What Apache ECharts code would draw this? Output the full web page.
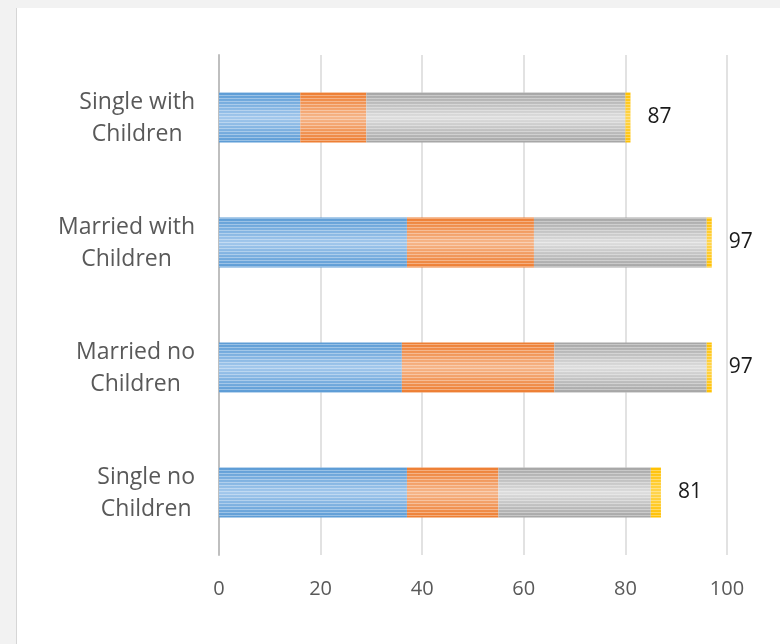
<!DOCTYPE html>
<html>
<head>
<meta charset="utf-8">
<script src="https://cdn.jsdelivr.net/npm/echarts@6/dist/echarts.min.js"></script>
<style>
  body { margin: 0; background: #f2f2f2; }
  #chart {
    position: absolute; left: 16px; top: 8px;
    width: 763px; height: 636px;
    background: #fff; border-left: 1px solid #d6d6d6;
  }
</style>
</head>
<body>
<div id="chart"></div>
<script>
// bottom to top
const categories = ['Single no\nChildren', 'Married no\nChildren', 'Married with\nChildren', 'Single with\nChildren'];
const blueVals   = [37, 36, 37, 16];
const orangeVals = [18, 30, 25, 13];
const grayVals   = [30, 30, 34, 51];
const yellowVals = [2, 1, 1, 1];
const endLabels  = [81, 97, 97, 87];
const xTicks = [0, 20, 40, 60, 80, 100];

const chart = echarts.init(document.getElementById('chart'));
const font = '"Open Sans", "Liberation Sans", sans-serif';

function stripes(edge, mid){
    return {
        type: 'linear', x: 0, y: 0, x2: 0, y2: 1,
        colorStops: [
            {offset: 0, color: edge},
            {offset: 0.5, color: mid},
            {offset: 1, color: edge}
        ]
    };
}
const decal = {
    symbol: 'rect',
    symbolSize: 1,
    dashArrayX: [1, 0],
    dashArrayY: [1, 2],
    color: 'rgba(255,255,255,0.35)'
};

function makeSeries(name, data, edge, mid){
    return {
        name: name,
        type: 'bar',
        stack: 'total',
        barWidth: 50,
        data: data,
        itemStyle: { color: stripes(edge, mid), decal: decal },
        emphasis: { disabled: true }
    };
}

const yellow = makeSeries('d', yellowVals, '#ffc000', '#ffd54f');
yellow.label = {
    show: true,
    position: 'right',
    distance: 17,
    color: '#1a1a1a',
    fontSize: 21,
    fontFamily: font,
    formatter: p => String(endLabels[p.dataIndex])
};

const option = {
    animation: false,
    grid: { left: 202, right: 53, top: 47, bottom: 89 },
    xAxis: {
        type: 'value',
        min: xTicks[0],
        max: xTicks[xTicks.length - 1],
        interval: 20,
        axisLine: { show: false },
        axisTick: { show: false },
        splitLine: { lineStyle: { color: '#d9d9d9', width: 1.5 } },
        axisLabel: { color: '#595959', fontSize: 20, fontFamily: font, margin: 24 }
    },
    yAxis: {
        type: 'category',
        data: categories,
        axisLine: { lineStyle: { color: '#bfbfbf', width: 2 } },
        axisTick: { show: false },
        axisLabel: {
            margin: 24,
            lineHeight: 32,
            formatter: v => v.split('\n').map(s => '{c|' + s + '}').join('\n'),
            rich: { c: { align: 'center', color: '#595959', fontSize: 23, fontFamily: font, lineHeight: 32, padding: [2, 0, 0, 0] } }
        }
    },
    series: [
        makeSeries('a', blueVals, '#5b9bd5', '#a3c8ec'),
        makeSeries('b', orangeVals, '#ed7d31', '#f6b68a'),
        makeSeries('c', grayVals, '#a5a5a5', '#dedede'),
        yellow
    ]
};
chart.setOption(option);
</script>
</body>
</html>
